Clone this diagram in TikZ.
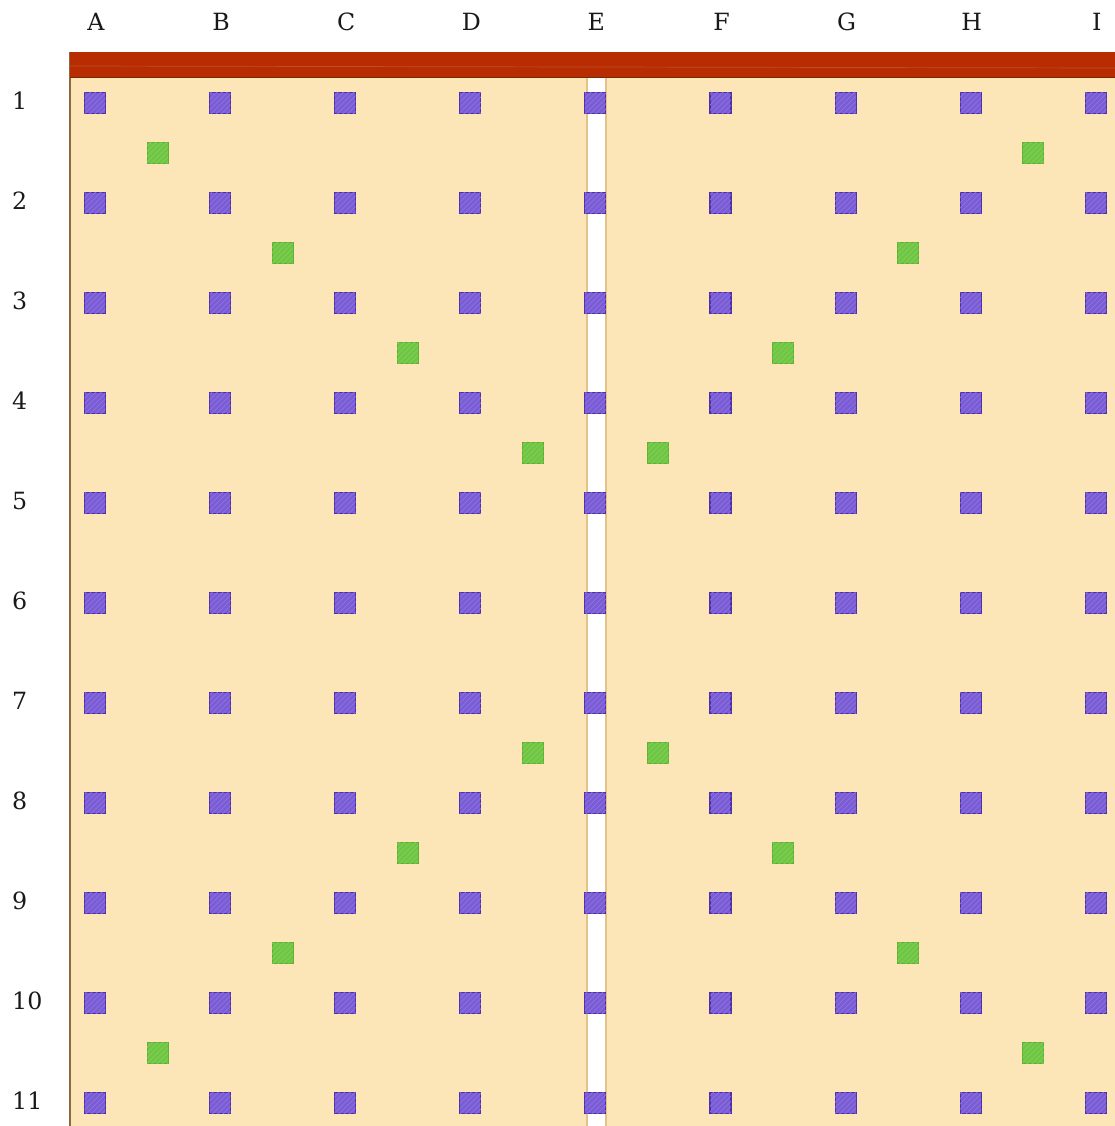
\documentclass[tikz,border=0pt]{standalone}
\usepackage{fontspec}
\setmainfont{DejaVu Serif}
\usepackage{tikz}
\usepackage{xcolor}
\usetikzlibrary{patterns}
\definecolor{Sand}{RGB}{252, 230, 184}
\definecolor{SandEdge}{RGB}{226, 196, 138}
\definecolor{Brick}{RGB}{184, 44, 2}
\definecolor{BrickDark}{RGB}{122, 40, 8}
\definecolor{Frame}{RGB}{140, 105, 60}
\definecolor{Violet}{RGB}{122, 92, 214}
\definecolor{VioletDark}{RGB}{78, 48, 170}
\definecolor{Leaf}{RGB}{110, 198, 66}
\definecolor{LeafDark}{RGB}{96, 176, 52}

\begin{document}
\begin{tikzpicture}[
    x={(0.02cm,0)}, y={(0,-0.02cm)},
    post/.style={rectangle, minimum size=0.42cm, inner sep=0pt, fill=Violet, draw=VioletDark, line width=0.6pt,
        postaction={pattern=north east lines, pattern color=Violet!85!white}},
    brace/.style={rectangle, minimum size=0.42cm, inner sep=0pt, fill=Leaf, draw=LeafDark, line width=0.5pt,
        postaction={pattern=north east lines, pattern color=Leaf!85!white}},
    label/.style={font=\fontsize{13.5}{16}\selectfont, text=black!90}
]
\useasboundingbox (0,0) rectangle (1115,1126);

% Floor, top beam and centre gap
\fill[Sand] (70,78) rectangle (1115,1126);
\draw[Frame, line width=0.6pt] (70,52) -- (70,1126);
\fill[Brick] (70,52) rectangle (1115,78);
\draw[BrickDark, line width=0.8pt] (70,77.5) -- (1115,77.5);
\draw[Brick!85!white, line width=0.4pt] (70,66) -- (1115,68);
\fill[white] (587,78) rectangle (606,1126);
\draw[SandEdge, line width=0.6pt] (587,78) -- (587,1126);
\draw[SandEdge, line width=0.6pt] (606,78) -- (606,1126);

% Column labels and posts
\foreach \name [count=\i] in {A,B,C,D,E,F,G,H,I} {
    \node[label] (col\name) at ({96+125.1*(\i-1)}, 22) {\name};
    \foreach \row in {1,...,11} {
        \node[post] (p\name\row) at ({95+125.1*(\i-1)}, {103+100*(\row-1)}) {};
    }
}

% Row labels
\foreach \row in {1,...,11} {
    \node[label, anchor=west] (row\row) at (6, {101+100*(\row-1)}) {\row};
}

% Diagonal braces (upper and lower, both halves)
\foreach \k in {0,1,2,3} {
    \node[brace] (bl\k) at ({157.5+125.1*\k}, {153+100*\k}) {};
    \node[brace] (br\k) at ({1033.3-125.1*\k}, {153+100*\k}) {};
    \node[brace] (cl\k) at ({157.5+125.1*\k}, {1053-100*\k}) {};
    \node[brace] (cr\k) at ({1033.3-125.1*\k}, {1053-100*\k}) {};
}

\end{tikzpicture}
\end{document}
